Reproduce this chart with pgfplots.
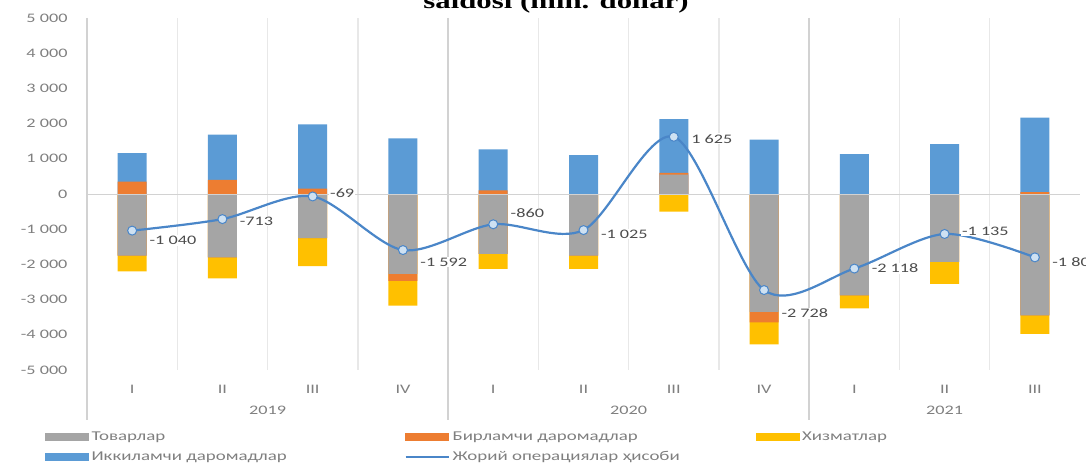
\documentclass[border=0pt]{standalone}
\usepackage{fontspec}
\setmainfont{Carlito}[FakeStretch=1.4]
\newfontfamily\titlefont{Liberation Serif}[FakeStretch=1.4]
\usepackage{pgfplots}
\usepackage{pgfplotstable}
\pgfplotsset{compat=1.18}

\definecolor{cgoods}{HTML}{A5A5A5}
\definecolor{cprim}{HTML}{ED7D31}
\definecolor{cserv}{HTML}{FFC000}
\definecolor{csec}{HTML}{5B9BD5}
\definecolor{cline}{HTML}{4A86C8}
\definecolor{ctick}{HTML}{7F7F7F}

% quarter, goods, primary income, services, secondary income, current account, label offset
\pgfplotstableread{
x goods prim serv sec cur dy
0  -1750  350 -450  810 -1040 -10
1  -1800  400 -600 1287  -713  -2
2  -1250  150 -800 1831   -69   3
3  -2270 -200 -700 1578 -1592 -12
4  -1700  100 -430 1170  -860  11
5  -1750    0 -380 1105 -1025  -4
6    550   50 -500 1525  1625  -2
7  -3350 -300 -620 1542 -2728 -23
8  -2880    0 -370 1132 -2118   0
9  -1930    0 -620 1415 -1135   3
10 -3450   50 -520 2120 -1800  -5
}\bop

\pgfplotsset{
  bars/.style={ybar, bar width=29pt, bar shift=0pt, draw=none, fill=#1, forget plot},
  swatch/.style={legend image code/.code={\fill[#1] (0pt,-3.5pt) rectangle (43pt,3.5pt);}},
}

\begin{document}
\begin{tikzpicture}[x=1pt,y=1pt]
\useasboundingbox (0,0) rectangle (1086,-465);
\node[anchor=base, font=\titlefont\bfseries\fontsize{22}{22}\selectfont] at (556,-9) {saldosi (mln. dollar)};
\begin{axis}[
    at={(87pt,-18pt)}, anchor=north west,
    scale only axis, width=993pt, height=352pt,
    font=\fontsize{13}{15}\selectfont,
    xmin=-0.5, xmax=10.5, ymin=-5000, ymax=5000,
    axis line style={draw=none}, tick style={draw=none},
    clip=false,
    ytick={-5000,-4000,...,5000},
    /pgf/number format/.cd, 1000 sep={\ }, assume math mode=true, /pgfplots/.cd,
    yticklabel style={text=ctick, xshift=-16pt},
    xtick={0,...,10},
    xticklabels={I,II,III,IV,I,II,III,IV,I,II,III},
    xticklabel style={text=ctick, yshift=-12pt},
    minor xtick={0.5,1.5,...,9.5},
    xminorgrids, minor grid style={gray!18, line width=1.4pt},
    legend columns=3,
    legend style={at={(axis description cs:-0.0423,-0.17)}, anchor=north west,
        draw=none, fill=none, inner sep=0pt, row sep=5pt,
        font=\fontsize{13.5}{15}\selectfont, text=ctick,
        nodes={inner xsep=3pt}},
    legend cell align=left,
]
% positive parts (outermost first)
\addplot[bars=csec] table[x=x, y expr={max(\thisrow{goods},0)+max(\thisrow{prim},0)+\thisrow{sec}}] {\bop};
\addplot[bars=cprim] table[x=x, y expr={max(\thisrow{goods},0)+max(\thisrow{prim},0)}] {\bop};
\addplot[bars=cgoods] table[x=x, y expr={max(\thisrow{goods},0)}] {\bop};
% negative parts (outermost first)
\addplot[bars=cserv] table[x=x, y expr={min(\thisrow{goods},0)+min(\thisrow{prim},0)+\thisrow{serv}}] {\bop};
\addplot[bars=cprim] table[x=x, y expr={min(\thisrow{goods},0)+min(\thisrow{prim},0)}] {\bop};
\addplot[bars=cgoods] table[x=x, y expr={min(\thisrow{goods},0)}] {\bop};

% zero line and year separators
\draw[gray!35, line width=1pt] (axis cs:-0.5,0) -- (axis cs:10.5,0);
\draw[gray!35, line width=1.4pt] (axis cs:-0.5,5000) -- ([yshift=-50pt]axis cs:-0.5,-5000);
\draw[gray!35, line width=1.4pt] (axis cs:3.5,5000) -- ([yshift=-50pt]axis cs:3.5,-5000);
\draw[gray!35, line width=1.4pt] (axis cs:7.5,5000) -- ([yshift=-50pt]axis cs:7.5,-5000);
\node[text=ctick] at ([yshift=-40pt]axis cs:1.5,-5000) {2019};
\node[text=ctick] at ([yshift=-40pt]axis cs:5.5,-5000) {2020};
\node[text=ctick] at ([yshift=-40pt]axis cs:9,-5000) {2021};

\addlegendimage{swatch=cgoods}
\addlegendentry{\makebox[310pt][l]{Товарлар}}
\addlegendimage{swatch=cprim}
\addlegendentry{\makebox[300pt][l]{Бирламчи даромадлар}}
\addlegendimage{swatch=cserv}
\addlegendentry{Хизматлар}
\addlegendimage{swatch=csec}
\addlegendentry{Иккиламчи даромадлар}

% current account balance
\addplot[smooth, color=cline, line width=2.2pt, mark=*,
    mark options={fill=csec!30, draw=cline, line width=1pt}, mark size=4.5pt,
    point meta=explicit,
    visualization depends on={\thisrow{dy} \as \labdy},
    nodes near coords,
    every node near coord/.append style={anchor=west, xshift=16pt, yshift=\labdy pt,
        fill=white, inner sep=1pt, text=black!70, font=\fontsize{13}{15}\selectfont},
    legend image code/.code={\draw[cline, line width=2pt] (0pt,0pt) -- (43pt,0pt);}]
  table[x=x, y=cur, meta=cur] {\bop};
\addlegendentry{Жорий операциялар ҳисоби}
\end{axis}
\end{tikzpicture}
\end{document}
